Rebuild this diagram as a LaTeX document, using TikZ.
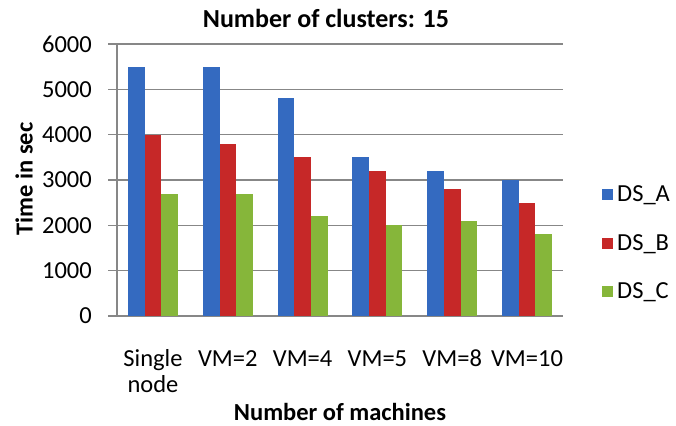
\documentclass[tikz,border=0pt]{standalone}
\usepackage{fontspec}
\setmainfont{Carlito}
\definecolor{dsa}{RGB}{52,106,192}
\definecolor{dsb}{RGB}{198,40,40}
\definecolor{dsc}{RGB}{134,182,58}
\definecolor{gridc}{RGB}{135,135,135}
\begin{document}
\begin{tikzpicture}[x=1pt,y=-1pt,
  lbl/.style={font=\fontsize{24.5}{28}\selectfont, inner sep=0pt},
  ttl/.style={font=\bfseries\fontsize{24.5}{28}\selectfont, inner sep=0pt},
  gridline/.style={draw=gridc, line width=1.3pt}]
\useasboundingbox (0,0) rectangle (676,425);
\fill[white] (0,0) rectangle (676,425);
% grid and axis
\foreach \v in {0,...,6} {
  \draw[gridline] (108,{316-45.333*\v}) -- (563,{316-45.333*\v});
}
\draw[gridline] (117,44) -- (117,316);
% tick labels
\node[lbl, anchor=east] (t0) at (92,316) {0};
\node[lbl, anchor=east] (t1) at (92,{316-45.333*1}) {1000};
\node[lbl, anchor=east] (t2) at (92,{316-45.333*2}) {2000};
\node[lbl, anchor=east] (t3) at (92,{316-45.333*3}) {3000};
\node[lbl, anchor=east] (t4) at (92,{316-45.333*4}) {4000};
\node[lbl, anchor=east] (t5) at (92,{316-45.333*5}) {5000};
\node[lbl, anchor=east] (t6) at (92,{316-45.333*6}) {6000};
% bars
\foreach \i/\a/\b/\c in {1/5500/4000/2700, 2/5500/3800/2700, 3/4800/3500/2200,
                         4/3500/3200/2000, 5/3200/2800/2100, 6/3000/2500/1800} {
  \pgfmathsetmacro{\cx}{153+74.8*(\i-1)}
  \fill[dsa] ({\cx-25},316) rectangle ({\cx-8.3},{316-0.045333*\a});
  \fill[dsb] ({\cx-8.3},316) rectangle ({\cx+8.3},{316-0.045333*\b});
  \fill[dsc] ({\cx+8.3},316) rectangle ({\cx+25},{316-0.045333*\c});
}
% category labels
\node[lbl, anchor=base] (c1) at (153,366) {Single};
\node[lbl, anchor=base] (c1b) at (153,392) {node};
\node[lbl, anchor=base] (c2) at (227.8,366) {VM=2};
\node[lbl, anchor=base] (c3) at (302.6,366) {VM=4};
\node[lbl, anchor=base] (c4) at (377.4,366) {VM=5};
\node[lbl, anchor=base] (c5) at (452.2,366) {VM=8};
\node[lbl, anchor=base] (c6) at (527,366) {VM=10};
% titles
\node[ttl, anchor=base, font=\bfseries\fontsize{26}{30}\selectfont] (title) at (326,28) {Number of clusters: 15};
\node[ttl, anchor=base] (xt) at (340,420) {Number of machines};
\node[ttl, rotate=90] (yt) at (24,179) {Time in sec};
% legend
\fill[dsa] (602,189) rectangle (613,200);
\node[lbl, anchor=west] (la) at (617,195) {DS\_A};
\fill[dsb] (602,238) rectangle (613,249);
\node[lbl, anchor=west] (lb) at (617,244) {DS\_B};
\fill[dsc] (602,286) rectangle (613,297);
\node[lbl, anchor=west] (lc) at (617,292) {DS\_C};
\end{tikzpicture}
\end{document}
